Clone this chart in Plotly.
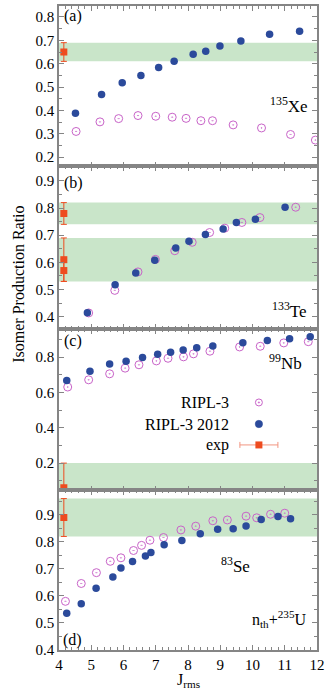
import plotly.graph_objects as go

# ---------------- data ----------------
# panel (a) 135Xe
a_new_x = [4.51, 5.32, 5.96, 6.54, 7.09, 7.57, 8.16, 8.55, 8.99, 9.64, 10.53, 11.46]
a_new_y = [0.388, 0.468, 0.518, 0.549, 0.584, 0.610, 0.640, 0.653, 0.676, 0.697, 0.726, 0.739]
a_old_x = [4.53, 5.27, 5.85, 6.45, 7.00, 7.51, 7.94, 8.40, 8.76, 9.40, 10.28, 11.18, 11.95]
a_old_y = [0.310, 0.351, 0.365, 0.378, 0.375, 0.371, 0.366, 0.356, 0.356, 0.338, 0.325, 0.297, 0.273]
a_exp_y = [0.65]; a_exp_up = [0.04]; a_exp_dn = [0.04]
a_bands = [(0.61, 0.69)]

# panel (b) 133Te
b_new_x = [4.88, 5.74, 6.38, 6.97, 7.62, 8.03, 8.54, 9.09, 9.50, 10.09, 11.01]
b_new_y = [0.415, 0.518, 0.561, 0.608, 0.653, 0.678, 0.703, 0.723, 0.747, 0.759, 0.803]
b_old_x = [4.92, 5.73, 6.45, 6.99, 7.59, 8.13, 8.67, 9.14, 9.67, 10.23, 11.34]
b_old_y = [0.414, 0.497, 0.565, 0.611, 0.643, 0.674, 0.710, 0.726, 0.747, 0.765, 0.803]
b_exp_y = [0.78, 0.61, 0.57]; b_exp_up = [0.04, 0.08, 0.04]; b_exp_dn = [0.04, 0.08, 0.04]
b_bands = [(0.74, 0.82), (0.53, 0.69)]

# panel (c) 99Nb
c_new_x = [4.24, 4.96, 5.57, 6.08, 6.59, 7.06, 7.46, 7.85, 8.27, 8.77, 9.70, 10.46, 11.15, 11.79]
c_new_y = [0.668, 0.721, 0.761, 0.777, 0.798, 0.817, 0.828, 0.841, 0.854, 0.864, 0.882, 0.894, 0.905, 0.916]
c_old_x = [4.27, 4.92, 5.57, 6.05, 6.48, 7.02, 7.38, 7.86, 8.17, 8.68, 9.60, 10.24, 10.97, 11.73]
c_old_y = [0.631, 0.672, 0.706, 0.738, 0.757, 0.779, 0.794, 0.802, 0.819, 0.834, 0.858, 0.862, 0.881, 0.888]
c_exp_y = [0.06]; c_exp_up = [0.14]; c_exp_dn = [0.14]
c_bands = [(-0.08, 0.20)]

# panel (d) 83Se
d_new_x = [4.24, 4.69, 5.15, 5.67, 5.92, 6.28, 6.68, 6.85, 7.26, 7.81, 8.38, 8.92, 9.40, 9.80, 10.27, 10.79, 11.18]
d_new_y = [0.536, 0.571, 0.628, 0.670, 0.703, 0.727, 0.748, 0.761, 0.789, 0.805, 0.830, 0.847, 0.848, 0.859, 0.883, 0.894, 0.885]
d_old_x = [4.20, 4.69, 5.16, 5.59, 5.92, 6.31, 6.56, 6.82, 7.24, 7.78, 8.24, 8.77, 9.22, 9.80, 10.13, 10.56, 11.00]
d_old_y = [0.580, 0.646, 0.686, 0.728, 0.741, 0.768, 0.787, 0.806, 0.816, 0.844, 0.858, 0.878, 0.881, 0.895, 0.889, 0.902, 0.906]
d_exp_y = [0.89]; d_exp_up = [0.07]; d_exp_dn = [0.07]
d_bands = [(0.82, 0.96)]

exp_x = 4.15
panel_tags = ["(a)", "(b)", "(c)", "(d)"]
isotopes = ["<sup>135</sup>Xe", "<sup>133</sup>Te", "<sup>99</sup>Nb", "<sup>83</sup>Se"]
legend_names = ["RIPL-3", "RIPL-3 2012", "exp"]
x_ticks = [4, 5, 6, 7, 8, 9, 10, 11, 12]

# ---------------- style ----------------
FONT = "Liberation Serif, Times New Roman, serif"
BLUE = "#2b4a9b"
MAG = "#c863c8"
RED = "#ee4b1f"
RED_LIGHT = "#f29580"
GREEN = "#c9e5c9"
AXC = "#858585"
TXT = "#000000"

panels = [
    dict(nx=a_new_x, ny=a_new_y, ox=a_old_x, oy=a_old_y, ey=a_exp_y, eu=a_exp_up, ed=a_exp_dn,
         bands=a_bands, rng=[0.16, 0.847], dom=[0.7508, 1.0], dt=0.1, mdt=0.05),
    dict(nx=b_new_x, ny=b_new_y, ox=b_old_x, oy=b_old_y, ey=b_exp_y, eu=b_exp_up, ed=b_exp_dn,
         bands=b_bands, rng=[0.355, 0.953], dom=[0.4985, 0.7508], dt=0.1, mdt=0.05),
    dict(nx=c_new_x, ny=c_new_y, ox=c_old_x, oy=c_old_y, ey=c_exp_y, eu=c_exp_up, ed=c_exp_dn,
         bands=c_bands, rng=[0.045, 0.96], dom=[0.2477, 0.4985], dt=0.2, mdt=0.1),
    dict(nx=d_new_x, ny=d_new_y, ox=d_old_x, oy=d_old_y, ey=d_exp_y, eu=d_exp_up, ed=d_exp_dn,
         bands=d_bands, rng=[0.40, 0.99], dom=[0.0, 0.2477], dt=0.1, mdt=0.05),
]

fig = go.Figure()
shapes = []
annotations = []

for i, p in enumerate(panels):
    k = "" if i == 0 else str(i + 1)
    xa, ya = "x" + k, "y" + k
    for lo, hi in p["bands"]:
        shapes.append(dict(type="rect", xref=xa + " domain", yref=ya, x0=0, x1=1,
                           y0=max(lo, p["rng"][0]), y1=min(hi, p["rng"][1]),
                           fillcolor=GREEN, line=dict(width=0), layer="below"))
    fig.add_trace(go.Scatter(x=p["ox"], y=p["oy"], mode="markers", xaxis=xa, yaxis=ya,
                             marker=dict(symbol="circle-open-dot", size=8, color=MAG,
                                         line=dict(width=1, color=MAG)),
                             showlegend=False))
    fig.add_trace(go.Scatter(x=p["nx"], y=p["ny"], mode="markers", xaxis=xa, yaxis=ya,
                             marker=dict(symbol="circle", size=7.5, color=BLUE),
                             showlegend=False))
    fig.add_trace(go.Scatter(x=[exp_x] * len(p["ey"]), y=p["ey"], mode="markers",
                             xaxis=xa, yaxis=ya,
                             marker=dict(symbol="square", size=7, color=RED),
                             error_y=dict(type="data", array=p["eu"], arrayminus=p["ed"],
                                          color=RED, thickness=1, width=3),
                             showlegend=False))
    axcommon = dict(showline=True, linecolor=AXC, linewidth=1.5, mirror="ticks",
                    ticks="inside", ticklen=5, tickcolor=AXC, tickwidth=1,
                    showgrid=False, zeroline=False,
                    tickfont=dict(family=FONT, size=15, color=TXT))
    fig.layout["xaxis" + k] = dict(
        **axcommon, range=[4, 12], anchor=ya, domain=[0, 1],
        tickvals=x_ticks, showticklabels=(i == 3),
        minor=dict(dtick=0.2, tick0=4, ticks="inside", ticklen=3, tickcolor=AXC, showgrid=False),
        matches=None if i == 0 else "x")
    fig.layout["yaxis" + k] = dict(
        **axcommon, range=p["rng"], anchor=xa, domain=p["dom"],
        dtick=p["dt"], tick0=0, tickformat=".1f",
        minor=dict(dtick=p["mdt"], tick0=0, ticks="inside", ticklen=3, tickcolor=AXC, showgrid=False))

# ---------------- annotations ----------------
def px2x(px):
    return (px - 59) / 262.0

def py2y(py):
    return (650 - py) / 646.0

tag_pos = [(62, 14), (62, 182), (62, 340), (61, 640)]
for t, (px, py) in zip(panel_tags, tag_pos):
    annotations.append(dict(text=t, xref="paper", yref="paper", x=px2x(px), y=py2y(py),
                            xanchor="left", yanchor="middle", showarrow=False,
                            font=dict(family=FONT, size=16, color=TXT)))

iso_pos = [(314, 103, "right"), (313, 309, "right"), (308, 361, "right"), (238, 565, "center")]
for t, (px, py, xan) in zip(isotopes, iso_pos):
    annotations.append(dict(text=t, xref="paper", yref="paper", x=px2x(px), y=py2y(py),
                            xanchor=xan, yanchor="middle", showarrow=False,
                            font=dict(family=FONT, size=17, color=TXT)))

annotations.append(dict(text="n<sub>th</sub>+<sup>235</sup>U", xref="paper", yref="paper",
                        x=px2x(313), y=py2y(619), xanchor="right", yanchor="middle",
                        showarrow=False, font=dict(family=FONT, size=16, color=TXT)))

annotations.append(dict(text="Isomer Production Ratio", xref="paper", yref="paper",
                        x=px2x(18), y=py2y(283), xanchor="center", yanchor="middle",
                        textangle=-90, showarrow=False,
                        font=dict(family=FONT, size=16, color=TXT)))
annotations.append(dict(text="J<sub>rms</sub>", xref="paper", yref="paper",
                        x=0.5, y=py2y(681), xanchor="center", yanchor="middle",
                        showarrow=False, font=dict(family=FONT, size=16, color=TXT)))

# legend (manual: text left of symbol)
leg_rows = [401.7, 423.3, 444.3]
sym_x = px2x(262)
for name, py in zip(legend_names, leg_rows):
    annotations.append(dict(text=name, xref="paper", yref="paper", x=px2x(234), y=py2y(py),
                            xanchor="right", yanchor="middle", showarrow=False,
                            font=dict(family=FONT, size=16, color=TXT)))

def pshape(kind, py, x0, x1, y0, y1, **kw):
    d = dict(type=kind, xref="paper", yref="paper", xsizemode="pixel", ysizemode="pixel",
             xanchor=sym_x, yanchor=py2y(py), x0=x0, x1=x1, y0=y0, y1=y1, layer="above")
    d.update(kw)
    return d

shapes.append(pshape("circle", leg_rows[0], -3.5, 3.5, -3.5, 3.5, line=dict(color=MAG, width=1)))
shapes.append(pshape("circle", leg_rows[0], -0.7, 0.7, -0.7, 0.7, fillcolor=MAG, line=dict(color=MAG, width=0.5)))
shapes.append(pshape("circle", leg_rows[1], -3.7, 3.7, -3.7, 3.7, fillcolor=BLUE, line=dict(color=BLUE, width=0.5)))
shapes.append(pshape("line", leg_rows[2], -19, 19, 0, 0, line=dict(color=RED_LIGHT, width=1)))
shapes.append(pshape("line", leg_rows[2], -19, -19, -3, 3, line=dict(color=RED_LIGHT, width=1)))
shapes.append(pshape("line", leg_rows[2], 19, 19, -3, 3, line=dict(color=RED_LIGHT, width=1)))
shapes.append(pshape("rect", leg_rows[2], -3.5, 3.5, -3.5, 3.5, fillcolor=RED, line=dict(width=0)))

fig.update_layout(
    width=329, height=694,
    margin=dict(l=59, r=8, t=4, b=44),
    paper_bgcolor="white", plot_bgcolor="white",
    showlegend=False,
    shapes=shapes, annotations=annotations,
    font=dict(family=FONT, color=TXT),
)

fig.write_html("out.html")
